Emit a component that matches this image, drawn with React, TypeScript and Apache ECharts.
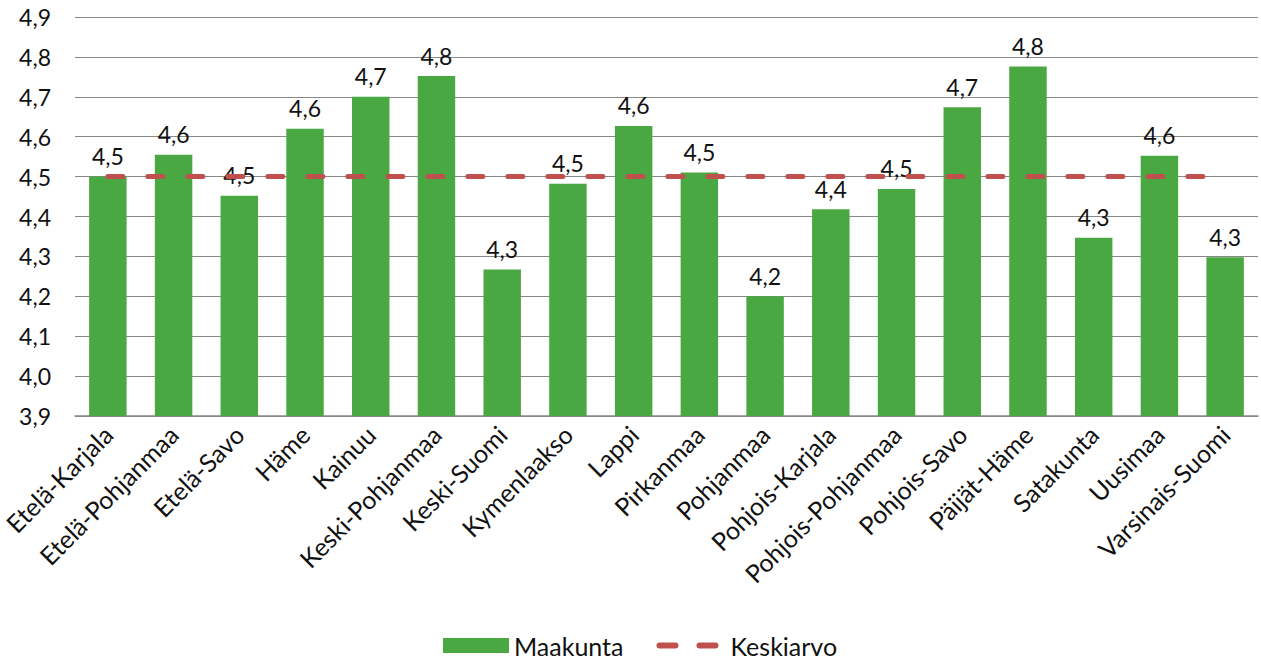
import React, { useEffect, useRef } from "react";
import * as echarts from "echarts";

const categories = [
  "Etelä-Karjala", "Etelä-Pohjanmaa", "Etelä-Savo", "Häme", "Kainuu", "Keski-Pohjanmaa",
  "Keski-Suomi", "Kymenlaakso", "Lappi", "Pirkanmaa", "Pohjanmaa", "Pohjois-Karjala",
  "Pohjois-Pohjanmaa", "Pohjois-Savo", "Päijät-Häme", "Satakunta", "Uusimaa", "Varsinais-Suomi",
];
const maakunta = [
  4.5, 4.555, 4.452, 4.62, 4.7, 4.752, 4.267, 4.482, 4.627, 4.51, 4.2, 4.418,
  4.469, 4.674, 4.776, 4.347, 4.552, 4.298,
];
const keskiarvo = categories.map(() => 4.5);

const FONT = "Lato, 'Open Sans', sans-serif";
const fmt = (v: number) => v.toFixed(1).replace(".", ",");

export default function App() {
  const ref = useRef<HTMLDivElement>(null);
  useEffect(() => {
    if (!ref.current) return;
    const chart = echarts.init(ref.current, undefined, { renderer: "svg" });
    chart.setOption({
      animation: false,
      textStyle: { fontFamily: FONT },
      grid: {
        left: 75,
        right: 3,
        top: 17,
        bottom: 246,
        containLabel: false,
        outerBoundsMode: "none",
      },
      legend: {
        top: 628,
        left: 438,
        itemGap: 33,
        textStyle: { fontSize: 25, lineHeight: 25, color: "#111", fontFamily: FONT },
        data: [
          { name: "Maakunta", icon: "rect", itemStyle: { color: "#4aa842" } },
          {
            name: "Keskiarvo",
            itemStyle: { color: "rgba(0,0,0,0)", borderWidth: 0, opacity: 0 },
            lineStyle: { color: "#c0504d", width: 6, type: [16, 24], cap: "round" },
          },
        ],
        itemWidth: 66,
        itemHeight: 15,
      },
      xAxis: {
        type: "category",
        data: categories,
        axisTick: { show: false },
        axisLine: { lineStyle: { color: "#888", width: 1.5 } },
        axisLabel: {
          rotate: 45,
          fontSize: 25,
          color: "#111",
          fontFamily: FONT,
          margin: 14,
          interval: 0,
        },
      },
      yAxis: {
        type: "value",
        min: 3.9,
        max: 4.9,
        interval: 0.1,
        axisLine: { show: false },
        axisTick: { show: false },
        splitLine: { lineStyle: { color: "#888", width: 1.2 } },
        axisLabel: {
          fontSize: 23,
          color: "#111",
          fontFamily: FONT,
          margin: 24,
          formatter: (v: number) => fmt(v),
        },
      },
      series: [
        {
          name: "Maakunta",
          type: "bar",
          data: maakunta,
          barCategoryGap: "43%",
          itemStyle: { color: "#4aa842" },
          label: {
            show: true,
            position: "top",
            distance: 9,
            fontSize: 23,
            color: "#111",
            fontFamily: FONT,
            formatter: (p: any) => fmt(p.value),
          },
        },
        {
          name: "Keskiarvo",
          type: "line",
          data: keskiarvo,
          symbol: "none",
          lineStyle: { color: "#c0504d", width: 5, type: [15, 25], cap: "round" },
          itemStyle: { color: "#c0504d" },
          z: 3,
        },
      ],
    });
    return () => chart.dispose();
  }, []);
  return (
    <div
      ref={ref}
      style={{ position: "absolute", left: 0, top: 0, width: 1261, height: 662 }}
    />
  );
}
